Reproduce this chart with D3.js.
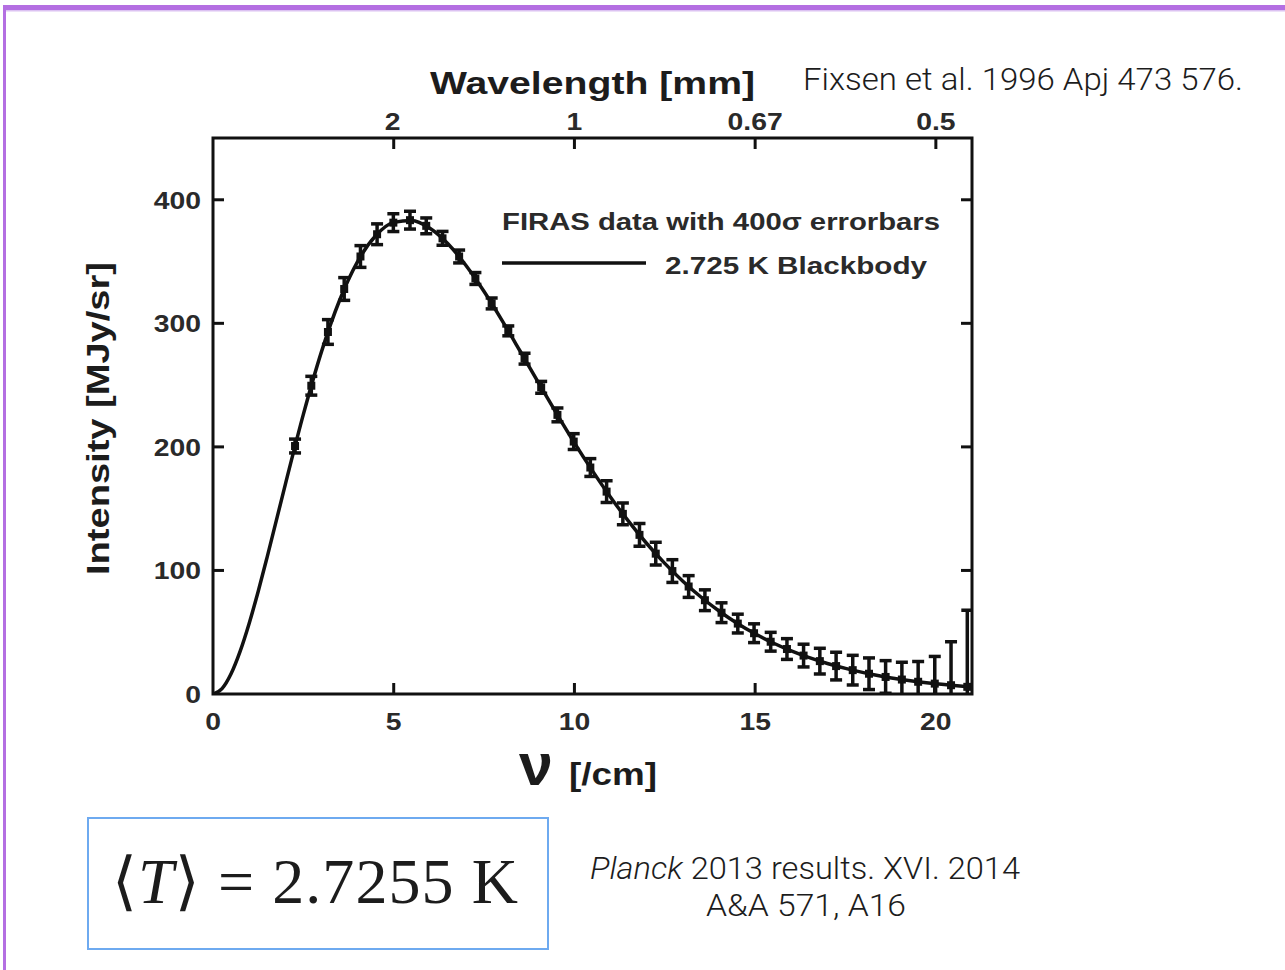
<html>
<head>
<meta charset="utf-8">
<script src="https://cdn.jsdelivr.net/npm/d3@7"></script>
<style>
  body { margin: 0; background: #fff; }
  svg text { fill: #1c1c1c; }
</style>
</head>
<body>
<div id="chart"></div>
<script>
// FIRAS monopole spectrum (frequency in /cm, intensity in MJy/sr, half errorbar = 400 sigma)
var freq = [2.27, 2.72, 3.18, 3.63, 4.08, 4.54, 4.99, 5.45, 5.90, 6.35, 6.81, 7.26, 7.71, 8.17, 8.62,
            9.08, 9.53, 9.98, 10.44, 10.89, 11.34, 11.80, 12.25, 12.71, 13.16, 13.61, 14.07, 14.52,
            14.97, 15.43, 15.88, 16.34, 16.79, 17.24, 17.70, 18.15, 18.61, 19.06, 19.51, 19.97, 20.42, 20.87];
var intensity = [200.7, 249.5, 293.0, 327.8, 354.1, 372.1, 381.5, 383.5, 378.9, 368.8, 354.1, 336.3,
                 316.1, 293.9, 271.4, 248.2, 225.9, 204.3, 183.3, 163.8, 145.8, 128.8, 113.6, 99.5,
                 87.0, 75.9, 65.8, 57.0, 49.2, 42.3, 36.4, 31.1, 26.6, 22.6, 19.3, 16.4, 13.8, 11.7,
                 9.9, 8.4, 7.1, 5.8];
var errHalf = [5.6, 7.6, 10, 9.2, 8.8, 8.4, 7.2, 7.2, 6.4, 5.6, 5.2, 4.8, 4.4, 4.0, 4.4, 4.8, 5.6,
               6.4, 7.2, 8.8, 8.8, 9.2, 9.2, 9.2, 8.8, 8.4, 8.0, 7.6, 7.6, 7.6, 8.4, 9.2, 10.4, 11.2,
               12, 12.8, 13.2, 14, 16.4, 22, 35.2, 62];

// 2.725 K blackbody curve
var bbFreq = [0, 0.25, 0.5, 0.75, 1, 1.25, 1.5, 2, 2.5, 3, 3.5, 4, 4.5, 5, 5.5, 6, 6.5, 7, 7.5, 8,
              8.5, 9, 9.5, 10, 10.5, 11, 11.5, 12, 12.5, 13, 13.5, 14, 14.5, 15, 15.5, 16, 16.5, 17,
              17.5, 18, 18.5, 19, 19.5, 20, 20.5, 21];
var bbInt = [0, 4.4, 16.4, 34.5, 57.1, 83.0, 111.0, 169.5, 226.3, 276.9, 318.5, 350.0, 370.9, 381.7,
             383.3, 377.0, 364.4, 346.8, 325.7, 302.2, 277.4, 252.3, 227.4, 203.3, 180.6, 159.3,
             139.7, 121.8, 105.7, 91.3, 78.5, 67.2, 57.3, 48.7, 41.3, 34.9, 29.4, 24.7, 20.7, 17.3,
             14.4, 12.0, 9.95, 8.24, 6.82, 5.63];

var xTicks = [0, 5, 10, 15, 20];
var yTicks = [0, 100, 200, 300, 400];
var wlTickFreq = [5, 10, 15, 20];
var wlTickLabels = ["2", "1", "0.67", "0.5"];

var W = 1285, H = 970;
var svg = d3.select("#chart").append("svg").attr("width", W).attr("height", H);

// slide frame (purple)
svg.append("rect").attr("x", 3).attr("y", 5).attr("width", W).attr("height", 5).attr("fill", "#b46fe2");
svg.append("rect").attr("x", 6).attr("y", 10).attr("width", W).attr("height", 1.5).attr("fill", "#dcc2f2");
svg.append("rect").attr("x", 3).attr("y", 5).attr("width", 3).attr("height", H).attr("fill", "#b46fe2");

var x = d3.scaleLinear().domain([0, 21]).range([213, 972]);
var y = d3.scaleLinear().domain([0, 450]).range([694, 138]);

var plot = svg.append("g");
var font = "'Liberation Sans', Arial, Helvetica, sans-serif";

svg.append("clipPath").attr("id", "clip").append("rect")
    .attr("x", x(0)).attr("y", y(450)).attr("width", x(21) - x(0)).attr("height", y(0) - y(450));

// inward ticks on all four sides
var tl = 11;
plot.selectAll(".tb").data(xTicks.slice(1)).enter().append("line")
    .attr("x1", d => x(d)).attr("x2", d => x(d)).attr("y1", y(0)).attr("y2", y(0) - tl)
    .attr("stroke", "#111").attr("stroke-width", 3);
plot.selectAll(".tt").data(wlTickFreq).enter().append("line")
    .attr("x1", d => x(d)).attr("x2", d => x(d)).attr("y1", y(450)).attr("y2", y(450) + tl)
    .attr("stroke", "#111").attr("stroke-width", 3);
plot.selectAll(".tlft").data(yTicks.slice(1)).enter().append("line")
    .attr("x1", x(0)).attr("x2", x(0) + tl).attr("y1", d => y(d)).attr("y2", d => y(d))
    .attr("stroke", "#111").attr("stroke-width", 3);
plot.selectAll(".trgt").data(yTicks.slice(1)).enter().append("line")
    .attr("x1", x(21)).attr("x2", x(21) - tl).attr("y1", d => y(d)).attr("y2", d => y(d))
    .attr("stroke", "#111").attr("stroke-width", 3);

// tick labels (slightly widened, as in the scanned figure)
function tickText(sel, anchor) {
  return sel.attr("text-anchor", anchor)
    .style("font-family", font).style("font-weight", "bold").style("font-size", "24px")
    .style("fill", "#2a2a2a");
}
plot.selectAll(".xl").data(xTicks).enter().append("text")
    .attr("transform", d => "translate(" + x(d) + ",730) scale(1.18,1)")
    .call(tickText, "middle").text(d => d);
plot.selectAll(".yl").data(yTicks).enter().append("text")
    .attr("transform", d => "translate(201," + (y(d) + 9) + ") scale(1.18,1)")
    .call(tickText, "end").text(d => d);
plot.selectAll(".wl").data(wlTickFreq).enter().append("text")
    .attr("transform", (d, i) => "translate(" + (x(d) - (i === 0 ? 1 : 0)) + ",130) scale(1.18,1)")
    .call(tickText, "middle").text((d, i) => wlTickLabels[i]);

// axis titles
svg.append("text").attr("x", 430).attr("y", 94)
    .attr("textLength", 325).attr("lengthAdjust", "spacingAndGlyphs")
    .style("font-family", font).style("font-weight", "bold").style("font-size", "32px")
    .text("Wavelength [mm]");
svg.append("text").attr("transform", "translate(109,575) rotate(-90)")
    .attr("textLength", 313).attr("lengthAdjust", "spacingAndGlyphs")
    .style("font-family", font).style("font-weight", "bold").style("font-size", "31px")
    .text("Intensity [MJy/sr]");
svg.append("text").attr("transform", "translate(519,785) scale(1.45,1.4)")
    .style("font-family", font).style("font-weight", "bold").style("font-size", "42px")
    .text("ν");
svg.append("text").attr("x", 569).attr("y", 785)
    .attr("textLength", 88).attr("lengthAdjust", "spacingAndGlyphs")
    .style("font-family", font).style("font-weight", "bold").style("font-size", "32px")
    .text("[/cm]");

// blackbody curve
var line = d3.line().x(d => x(d[0])).y(d => y(d[1])).curve(d3.curveMonotoneX);
plot.append("path").datum(bbFreq.map((f, i) => [f, bbInt[i]]))
    .attr("d", line).attr("fill", "none").attr("stroke", "#111").attr("stroke-width", 3.5)
    .attr("clip-path", "url(#clip)");

// errorbars
var pts = freq.map((f, i) => ({ f: f, v: intensity[i], e: errHalf[i] }));
var eb = plot.append("g").attr("clip-path", "url(#clip)").selectAll("g").data(pts).enter().append("g");
eb.append("line")
    .attr("x1", d => x(d.f)).attr("x2", d => x(d.f))
    .attr("y1", d => y(d.v - d.e)).attr("y2", d => y(d.v + d.e))
    .attr("stroke", "#111").attr("stroke-width", 3.5);
eb.append("line")
    .attr("x1", d => x(d.f) - 6).attr("x2", d => x(d.f) + 6)
    .attr("y1", d => y(d.v + d.e)).attr("y2", d => y(d.v + d.e))
    .attr("stroke", "#111").attr("stroke-width", 3.5);
eb.append("line")
    .attr("x1", d => x(d.f) - 6).attr("x2", d => x(d.f) + 6)
    .attr("y1", d => y(d.v - d.e)).attr("y2", d => y(d.v - d.e))
    .attr("stroke", "#111").attr("stroke-width", 3.5);
eb.append("rect")
    .attr("x", d => x(d.f) - 4).attr("y", d => y(d.v) - 4).attr("width", 8).attr("height", 8)
    .attr("fill", "#111");

// frame
plot.append("rect").attr("x", x(0)).attr("y", y(450)).attr("width", x(21) - x(0)).attr("height", y(0) - y(450))
    .attr("fill", "none").attr("stroke", "#111").attr("stroke-width", 3);

// legend
svg.append("text").attr("x", 502).attr("y", 230)
    .attr("textLength", 438).attr("lengthAdjust", "spacingAndGlyphs")
    .style("font-family", font).style("font-weight", "bold").style("font-size", "24px")
    .style("fill", "#2a2a2a")
    .text("FIRAS data with 400σ errorbars");
svg.append("line").attr("x1", 502).attr("x2", 646).attr("y1", 263).attr("y2", 263)
    .attr("stroke", "#111").attr("stroke-width", 3.5);
svg.append("text").attr("x", 665).attr("y", 274)
    .attr("textLength", 262).attr("lengthAdjust", "spacingAndGlyphs")
    .style("font-family", font).style("font-weight", "bold").style("font-size", "24px")
    .style("fill", "#2a2a2a")
    .text("2.725 K Blackbody");

// references
var light = "Roboto, 'Open Sans', sans-serif";
svg.append("text").attr("x", 803).attr("y", 90)
    .attr("textLength", 440).attr("lengthAdjust", "spacingAndGlyphs")
    .style("font-family", light).style("font-weight", 300).style("font-size", "31px")
    .text("Fixsen et al. 1996 Apj 473 576.");
var pl = svg.append("text").attr("x", 590).attr("y", 879)
    .attr("textLength", 430).attr("lengthAdjust", "spacingAndGlyphs")
    .style("font-family", light).style("font-weight", 300).style("font-size", "31px");
pl.append("tspan").style("font-style", "italic").text("Planck");
pl.append("tspan").text(" 2013 results. XVI. 2014");
svg.append("text").attr("x", 706).attr("y", 916)
    .attr("textLength", 200).attr("lengthAdjust", "spacingAndGlyphs")
    .style("font-family", light).style("font-weight", 300).style("font-size", "31px")
    .text("A&A 571, A16");

// temperature box
svg.append("rect").attr("x", 88).attr("y", 818).attr("width", 460).attr("height", 131)
    .attr("fill", "none").attr("stroke", "#6eaaf0").attr("stroke-width", 2);
var tt = svg.append("text").attr("x", 112).attr("y", 903)
    .attr("textLength", 406).attr("lengthAdjust", "spacing")
    .style("font-family", "'Liberation Serif', 'DejaVu Serif', serif").style("font-size", "64px");
tt.append("tspan").text("⟨");
tt.append("tspan").style("font-style", "italic").text("T");
tt.append("tspan").text("⟩ = 2.7255 K");
</script>
</body>
</html>
